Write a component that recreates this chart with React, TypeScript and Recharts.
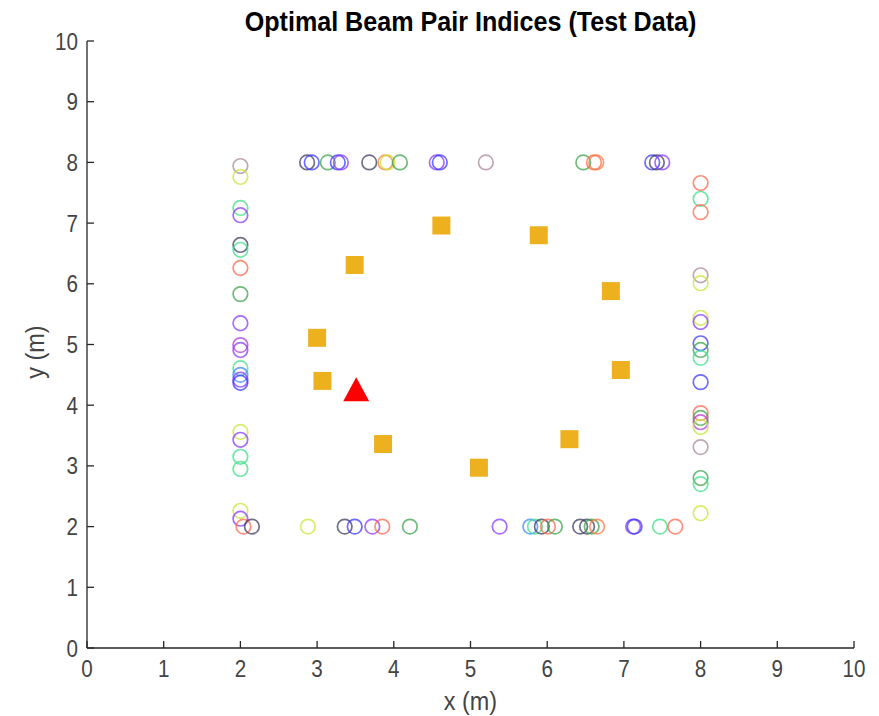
import { ScatterChart, Scatter, XAxis, YAxis } from 'recharts';

if (typeof document !== 'undefined') {
  document.body.style.margin = '0';
}

const TICKS = [0, 1, 2, 3, 4, 5, 6, 7, 8, 9, 10];

// colour per beam pair index
const BEAM_COLORS = [
  '#3d3d5c', // 0 dark
  '#3b3bff', // 1 blue
  '#8a3bff', // 2 purple
  '#3fa34d', // 3 green
  '#3de08a', // 4 mint
  '#ff6a4d', // 5 salmon
  '#c8e63a', // 6 yellow
  '#a88a9e', // 7 mauve
  '#3b8aff', // 8 light blue
  '#ff7a3d', // 9 orange
  '#b43bd9' // 10 magenta
];

// user positions (circles) along the square route
const topX = [2.87, 2.93, 3.14, 3.27, 3.31, 3.68, 3.89, 3.92, 4.08, 4.56, 4.6, 5.2, 6.47, 6.61, 6.64, 7.37, 7.43, 7.5];
const topBeam = [0, 1, 3, 1, 2, 0, 9, 6, 3, 2, 1, 7, 3, 5, 9, 1, 0, 2];

const leftY = [7.94, 7.76, 7.25, 7.13, 6.64, 6.56, 6.26, 5.83, 5.35, 4.99, 4.91, 4.61, 4.5, 4.42, 4.37, 3.56, 3.43, 3.15, 2.95, 2.26, 2.13];
const leftBeam = [7, 6, 4, 2, 0, 4, 5, 3, 2, 10, 2, 4, 8, 2, 1, 6, 2, 4, 4, 6, 2];

const rightY = [7.66, 7.4, 7.18, 6.14, 6.01, 5.44, 5.37, 5.02, 4.91, 4.78, 4.38, 3.87, 3.79, 3.72, 3.64, 3.31, 2.8, 2.7, 2.22];
const rightBeam = [5, 4, 5, 7, 6, 6, 2, 1, 3, 4, 1, 5, 3, 10, 6, 7, 3, 4, 6];

const bottomX = [2.04, 2.15, 2.88, 3.36, 3.49, 3.72, 3.85, 4.21, 5.38, 5.78, 5.84, 5.93, 6.01, 6.1, 6.43, 6.52, 6.58, 6.65, 7.12, 7.14, 7.47, 7.67];
const bottomBeam = [5, 0, 6, 0, 1, 2, 5, 3, 2, 8, 4, 0, 5, 3, 0, 0, 3, 9, 2, 1, 4, 5];

// anchor / access point positions
const anchorX = [4.62, 5.89, 3.49, 6.83, 3.0, 6.96, 3.07, 3.86, 6.29, 5.11];
const anchorY = [6.96, 6.8, 6.31, 5.88, 5.11, 4.58, 4.4, 3.36, 3.44, 2.97];

const targetX = [3.51];
const targetY = [4.23];

const users = [
  ...topX.map((x, i) => ({ x, y: 8, beam: topBeam[i] })),
  ...leftY.map((y, i) => ({ x: 2, y, beam: leftBeam[i] })),
  ...rightY.map((y, i) => ({ x: 8, y, beam: rightBeam[i] })),
  ...bottomX.map((x, i) => ({ x, y: 2, beam: bottomBeam[i] }))
];
const anchors = anchorX.map((x, i) => ({ x, y: anchorY[i] }));
const targets = targetX.map((x, i) => ({ x, y: targetY[i] }));

const FONT = '"Liberation Sans", Arial, Helvetica, sans-serif';
const TEXT_GRAY = '#444';

const Ring = (props: any) => (
  <circle
    cx={props.cx}
    cy={props.cy}
    r={7.3}
    fill="none"
    stroke={BEAM_COLORS[props.payload.beam]}
    strokeWidth={1.7}
    strokeOpacity={0.75}
  />
);

const Square = (props: any) => (
  <rect x={props.cx - 9} y={props.cy - 9} width={18} height={18} fill="#EDB120" />
);

const Triangle = (props: any) => (
  <polygon
    points={`${props.cx},${props.cy - 14} ${props.cx - 13},${props.cy + 10} ${props.cx + 13},${props.cy + 10}`}
    fill="#ff0000"
  />
);

const XTick = (props: any) => (
  <text
    transform={`translate(${props.x},${props.y + 21}) scale(0.86,1)`}
    textAnchor="middle"
    fontSize={24}
    fontFamily={FONT}
    fill={TEXT_GRAY}
  >
    {props.payload.value}
  </text>
);

const YTick = (props: any) => (
  <text
    transform={`translate(${props.x},${props.y + 8.5}) scale(0.86,1)`}
    textAnchor="end"
    fontSize={24}
    fontFamily={FONT}
    fill={TEXT_GRAY}
  >
    {props.payload.value}
  </text>
);

const App = () => {
  return (
    <div style={{ position: 'relative', width: 879, height: 716, background: '#fff' }}>
      <div
        style={{
          position: 'absolute',
          top: 6,
          left: 87,
          width: 767,
          textAlign: 'center',
          fontFamily: FONT,
          fontWeight: 'bold',
          fontSize: 27,
          lineHeight: '32px',
          color: '#000',
          transform: 'scaleX(0.93)'
        }}
      >
        Optimal Beam Pair Indices (Test Data)
      </div>
      <ScatterChart width={879} height={716} margin={{ top: 41, right: 25, left: 0, bottom: 0 }}>
        <XAxis
          type="number"
          dataKey="x"
          domain={[0, 10]}
          ticks={TICKS}
          interval={0}
          height={68}
          allowDataOverflow
          tickSize={-7}
          tickMargin={15}
          tick={XTick}
          axisLine={{ stroke: '#262626', strokeWidth: 1.3 }}
          tickLine={{ stroke: '#262626', strokeWidth: 1.3 }}
        />
        <YAxis
          type="number"
          dataKey="y"
          domain={[0, 10]}
          ticks={TICKS}
          interval={0}
          width={87}
          allowDataOverflow
          tickSize={-7}
          tickMargin={16}
          tick={YTick}
          axisLine={{ stroke: '#262626', strokeWidth: 1.3 }}
          tickLine={{ stroke: '#262626', strokeWidth: 1.3 }}
        />
        <Scatter data={users} shape={Ring} isAnimationActive={false} />
        <Scatter data={anchors} shape={Square} isAnimationActive={false} />
        <Scatter data={targets} shape={Triangle} isAnimationActive={false} />
      </ScatterChart>
      <div
        style={{
          position: 'absolute',
          top: 686,
          left: 87,
          width: 767,
          textAlign: 'center',
          fontFamily: FONT,
          fontSize: 26,
          lineHeight: '30px',
          color: TEXT_GRAY,
          transform: 'scaleX(0.9)'
        }}
      >
        x (m)
      </div>
      <div
        style={{
          position: 'absolute',
          top: 352,
          left: 35,
          transform: 'translate(-50%, -50%) rotate(-90deg) scaleX(0.9)',
          fontFamily: FONT,
          fontSize: 26,
          lineHeight: '30px',
          color: TEXT_GRAY,
          whiteSpace: 'nowrap'
        }}
      >
        y (m)
      </div>
    </div>
  );
};

export default App;
